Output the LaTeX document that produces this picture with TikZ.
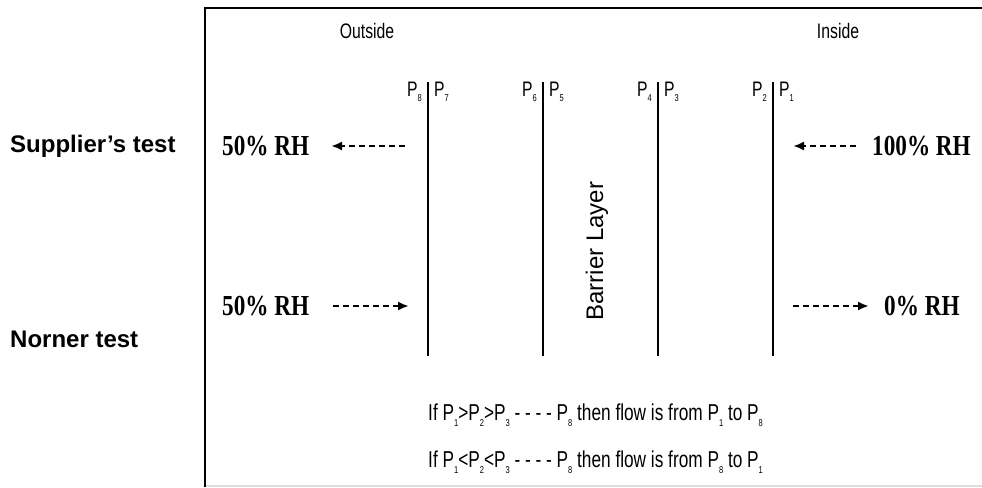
\documentclass[tikz,border=0pt]{standalone}
\usepackage{fontspec}
\setmainfont{Liberation Sans}
\newfontfamily\narrowfont[FakeStretch=0.75]{Liberation Sans}
\newfontfamily\rhfont[FakeStretch=0.8]{Liberation Serif}
\usetikzlibrary{arrows.meta}
\newcommand\sbs[1]{\raisebox{-0.5ex}{\fontsize{10}{10}\selectfont #1}}
\begin{document}
\begin{tikzpicture}[x=1pt,y=-1pt,
  narrowtxt/.style={inner sep=0pt,font=\narrowfont\fontsize{21}{24}\selectfont},
  condtxt/.style={inner sep=0pt,anchor=base west,font=\narrowfont\fontsize{23}{26}\selectfont},
  sidetxt/.style={inner sep=0pt,anchor=west,font=\bfseries\fontsize{24}{28}\selectfont},
  rhtxt/.style={inner sep=0pt,font=\rhfont\bfseries\fontsize{29}{32}\selectfont},
  wall/.style={line width=1.6pt},
  flow/.style={line width=2.2pt,dash pattern=on 6pt off 4pt,-{Latex[length=11pt,width=9pt]}}]
\useasboundingbox (0,0) rectangle (982,487);
% frame
\draw[line width=2pt] (205,487) -- (205,8) -- (982,8);
\draw[line width=1.5pt,black!13] (206,486) -- (982,486);
% side labels
\node[sidetxt] (sup) at (10,146) {Supplier’s test};
\node[sidetxt] (nor) at (10,339) {Norner test};
% outside / inside
\node[narrowtxt] (out) at (367,31) {Outside};
\node[narrowtxt] (ins) at (838,31) {Inside};
% walls
\foreach \x/\n in {428/a,543/b,658/c,773/d}{
  \coordinate (\n top) at (\x,82);
  \coordinate (\n bot) at (\x,356);
  \draw[wall] (\n top) -- (\n bot);
}
% P labels
\node[narrowtxt,anchor=base east] (p8) at (422,96) {P\sbs{8}};
\node[narrowtxt,anchor=base west] (p7) at (434,96) {P\sbs{7}};
\node[narrowtxt,anchor=base east] (p6) at (537,96) {P\sbs{6}};
\node[narrowtxt,anchor=base west] (p5) at (549,96) {P\sbs{5}};
\node[narrowtxt,anchor=base east] (p4) at (652,96) {P\sbs{4}};
\node[narrowtxt,anchor=base west] (p3) at (664,96) {P\sbs{3}};
\node[narrowtxt,anchor=base east] (p2) at (767,96) {P\sbs{2}};
\node[narrowtxt,anchor=base west] (p1) at (779,96) {P\sbs{1}};
% barrier
\node[inner sep=0pt,rotate=90,font=\fontsize{24}{26}\selectfont] (bar) at (597,251) {Barrier Layer};
% RH labels
\node[rhtxt,anchor=west] (rh1) at (222,146) {50\% RH};
\node[rhtxt,anchor=west] (rh2) at (872,146) {100\% RH};
\node[rhtxt,anchor=west] (rh3) at (222,306) {50\% RH};
\node[rhtxt,anchor=west] (rh4) at (884,306) {0\% RH};
% flow arrows
\coordinate (f1s) at (405,146);
\coordinate (f1e) at (331,146);
\coordinate (f2s) at (856,146);
\coordinate (f2e) at (793,146);
\coordinate (f3s) at (333,306);
\coordinate (f3e) at (409,306);
\coordinate (f4s) at (793,306);
\coordinate (f4e) at (869,306);
\draw[flow] (f1s) -- (f1e);
\draw[flow] (f2s) -- (f2e);
\draw[flow] (f3s) -- (f3e);
\draw[flow] (f4s) -- (f4e);
% conditions
\node[condtxt] (c1) at (428,420) {If P\sbs{1}>P\sbs{2}>P\sbs{3} - - - - P\sbs{8} then flow is from P\sbs{1} to P\sbs{8}};
\node[condtxt] (c2) at (428,467) {If P\sbs{1}<P\sbs{2}<P\sbs{3} - - - - P\sbs{8} then flow is from P\sbs{8} to P\sbs{1}};
\end{tikzpicture}
\end{document}
